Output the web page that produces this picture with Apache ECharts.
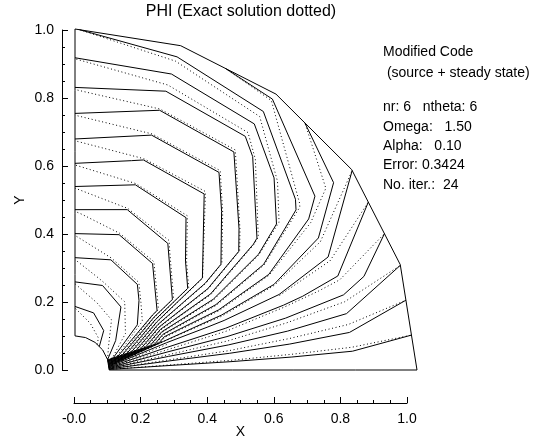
<!DOCTYPE html>
<html>
<head>
<meta charset="utf-8">
<title>PHI contours</title>
<script src="https://cdn.jsdelivr.net/npm/echarts@6/dist/echarts.min.js"></script>
<style>
  html, body { margin: 0; padding: 0; background: #fff; }
  #chart { width: 535px; height: 442px; }
</style>
</head>
<body>
<div id="chart"></div>
<script>
// Polar grid of the solver: radial nodes and angular nodes (degrees)
const radii = [0.1, 0.28, 0.46, 0.64, 0.82, 1.0];
const anglesDeg = [0, 18, 36, 54, 72, 90];

// Nodal PHI values, one row per radius, one column per angle
const phiComputed = [
  [0, 19.3, 19.6, 20.5, 20.9, 21.2],
  [0, 6.5, 17.3, 18.4, 18.77, 18.7],
  [0, 5.8, 14.05, 16.02, 16.45, 16.15],
  [0, 5.2, 11.25, 14.03, 14.1, 13.5],
  [0, 4.6, 8.7, 11.6, 11.75, 11.1],
  [0, 3.02, 6.03, 7.6, 8.35, 9.03]
];
const phiExact = [
  [0, 19.1, 19.35, 20.25, 20.7, 21.15],
  [0, 5.8, 16.4, 17.5, 17.85, 18.62],
  [0, 5.0, 13.1, 15.1, 15.5, 16.08],
  [0, 4.3, 10.3, 13.1, 13.15, 13.43],
  [0, 3.8, 7.9, 10.7, 10.8, 11.03],
  [0, 3.02, 6.03, 7.6, 8.35, 9.03]
];

// Contour levels drawn for both fields
const levels = [1, 2, 3, 4, 5, 6, 7, 8, 9, 10, 11, 12, 13, 14, 15, 16, 17, 18, 19, 20];

const xTickLabels = ['-0.0', '0.2', '0.4', '0.6', '0.8', '1.0'];
const yTickLabels = ['0.0', '0.2', '0.4', '0.6', '0.8', '1.0'];

const titleText = 'PHI (Exact solution dotted)';
const infoLines = [
  'Modified Code',
  ' (source + steady state)',
  'nr: 6   ntheta: 6',
  'Omega:   1.50',
  'Alpha:   0.10',
  'Error: 0.3424',
  'No. iter.:  24'
];

const FONT = '"Liberation Sans", Arial, Helvetica, sans-serif';

// Cartesian position of grid node (i, j)
function nodePos(i, j) {
  const t = anglesDeg[j] * Math.PI / 180;
  return [radii[i] * Math.cos(t), radii[i] * Math.sin(t)];
}

// Linear-interpolation contouring on the quadrilateral cells of the polar grid
function contourLines(field, level) {
  const nr = radii.length, nt = anglesDeg.length;
  const cross = {};
  function edgePoint(key, a, b) {
    if (key in cross) return cross[key];
    const va = field[a[0]][a[1]] - level;
    const vb = field[b[0]][b[1]] - level;
    let p = null;
    if (va * vb < 0) {
      const t = va / (va - vb);
      const pa = nodePos(a[0], a[1]), pb = nodePos(b[0], b[1]);
      p = [pa[0] + t * (pb[0] - pa[0]), pa[1] + t * (pb[1] - pa[1])];
    }
    cross[key] = p;
    return p;
  }
  const segs = [];
  for (let i = 0; i < nr - 1; i++) {
    for (let j = 0; j < nt - 1; j++) {
      const edges = [
        ['R' + i + '_' + j, [i, j], [i + 1, j]],
        ['C' + (i + 1) + '_' + j, [i + 1, j], [i + 1, j + 1]],
        ['R' + i + '_' + (j + 1), [i, j + 1], [i + 1, j + 1]],
        ['C' + i + '_' + j, [i, j], [i, j + 1]]
      ];
      const hits = edges.filter(e => edgePoint(e[0], e[1], e[2]));
      if (hits.length === 2) {
        segs.push([hits[0][0], hits[1][0]]);
      } else if (hits.length === 4) {
        const c = (field[i][j] + field[i + 1][j] + field[i + 1][j + 1] + field[i][j + 1]) / 4 - level;
        const s0 = field[i][j] - level;
        if (c * s0 > 0) {
          segs.push([edges[0][0], edges[1][0]]);
          segs.push([edges[2][0], edges[3][0]]);
        } else {
          segs.push([edges[3][0], edges[0][0]]);
          segs.push([edges[1][0], edges[2][0]]);
        }
      }
    }
  }
  // join cell segments into polylines through shared edges
  const adj = {};
  segs.forEach((s, k) => s.forEach(e => { (adj[e] = adj[e] || []).push(k); }));
  const used = new Array(segs.length).fill(false);
  function walk(startKey, k) {
    const keys = [startKey];
    let cur = startKey;
    while (k !== undefined && !used[k]) {
      used[k] = true;
      const s = segs[k];
      const nxt = s[0] === cur ? s[1] : s[0];
      keys.push(nxt);
      cur = nxt;
      k = (adj[cur] || []).find(m => !used[m]);
    }
    return keys.map(key => cross[key]);
  }
  const lines = [];
  Object.keys(adj).forEach(e => {
    if (adj[e].length === 1 && !used[adj[e][0]]) lines.push(walk(e, adj[e][0]));
  });
  segs.forEach((s, k) => { if (!used[k]) lines.push(walk(s[0], k)); });
  return lines;
}

const series = [];

function addContours(field, dash, name) {
  levels.forEach(L => {
    contourLines(field, L).forEach(pts => {
      series.push({
        name: name,
        type: 'line',
        xAxisIndex: 0,
        yAxisIndex: 0,
        data: pts,
        symbol: 'none',
        showSymbol: false,
        clip: false,
        silent: true,
        animation: false,
        lineStyle: { color: '#000', width: 1, type: dash }
      });
    });
  });
}

// Domain outline: bottom edge, outer polygon, left edge, inner arc
const outline = [];
for (let i = 0; i < radii.length; i++) outline.push(nodePos(i, 0));
for (let j = 1; j < anglesDeg.length; j++) outline.push(nodePos(radii.length - 1, j));
for (let i = radii.length - 2; i >= 0; i--) outline.push(nodePos(i, anglesDeg.length - 1));
for (let j = anglesDeg.length - 2; j >= 0; j--) outline.push(nodePos(0, j));

series.push({
  name: 'domain',
  type: 'line',
  xAxisIndex: 0,
  yAxisIndex: 0,
  data: outline,
  symbol: 'none',
  clip: false,
  silent: true,
  animation: false,
  lineStyle: { color: '#000', width: 1 }
});

addContours(phiComputed, 'solid', 'computed');
addContours(phiExact, [1, 2.6], 'exact');

const axisCommon = {
  type: 'value',
  min: 0,
  max: 1,
  interval: 0.2,
  axisLine: { show: true, onZero: false, lineStyle: { color: '#000', width: 1 } },
  axisTick: { show: true, inside: true, length: 6, lineStyle: { color: '#000', width: 1 } },
  minorTick: { show: true, splitNumber: 4, length: 3, lineStyle: { color: '#000', width: 1 } },
  splitLine: { show: false },
  minorSplitLine: { show: false },
  nameMoveOverlap: false
};

const option = {
  backgroundColor: '#fff',
  animation: false,
  grid: [
    { left: 75, top: 29, width: 342, height: 341, outerBoundsMode: 'none', containLabel: false },
    { left: 74, top: 30, width: 333, height: 340, outerBoundsMode: 'none', containLabel: false }
  ],
  xAxis: [
    { gridIndex: 0, type: 'value', min: 0, max: 1, show: false },
    Object.assign({}, axisCommon, {
      gridIndex: 1,
      position: 'bottom',
      offset: 33,
      axisLabel: {
        color: '#000', fontSize: 14, fontFamily: FONT, margin: 9,
        formatter: v => xTickLabels[Math.round(v / 0.2)]
      },
      name: 'X',
      nameLocation: 'middle',
      nameGap: 22,
      nameTextStyle: { color: '#000', fontSize: 14, fontFamily: FONT }
    })
  ],
  yAxis: [
    { gridIndex: 0, type: 'value', min: 0, max: 1, show: false },
    Object.assign({}, axisCommon, {
      gridIndex: 1,
      position: 'left',
      offset: 12,
      axisLabel: {
        color: '#000', fontSize: 14, fontFamily: FONT, margin: 8,
        formatter: v => yTickLabels[Math.round(v / 0.2)]
      },
      name: 'Y',
      nameLocation: 'middle',
      nameRotate: 90,
      nameGap: 35,
      nameTextStyle: { color: '#000', fontSize: 14, fontFamily: FONT }
    })
  ],
  graphic: [
    {
      type: 'text', x: 241, y: 12, silent: true,
      style: { text: titleText, fill: '#000', font: '16px ' + FONT, textAlign: 'center', textVerticalAlign: 'middle' }
    }
  ].concat(infoLines.map((t, k) => ({
    type: 'text', x: 383, y: [52, 73, 107, 127, 146, 165.5, 185][k], silent: true,
    style: { text: t, fill: '#000', font: '14px ' + FONT, textAlign: 'left', textVerticalAlign: 'middle' }
  }))),
  series: series
};

const chart = echarts.init(document.getElementById('chart'), null, { renderer: 'canvas' });
chart.setOption(option);
</script>
</body>
</html>
